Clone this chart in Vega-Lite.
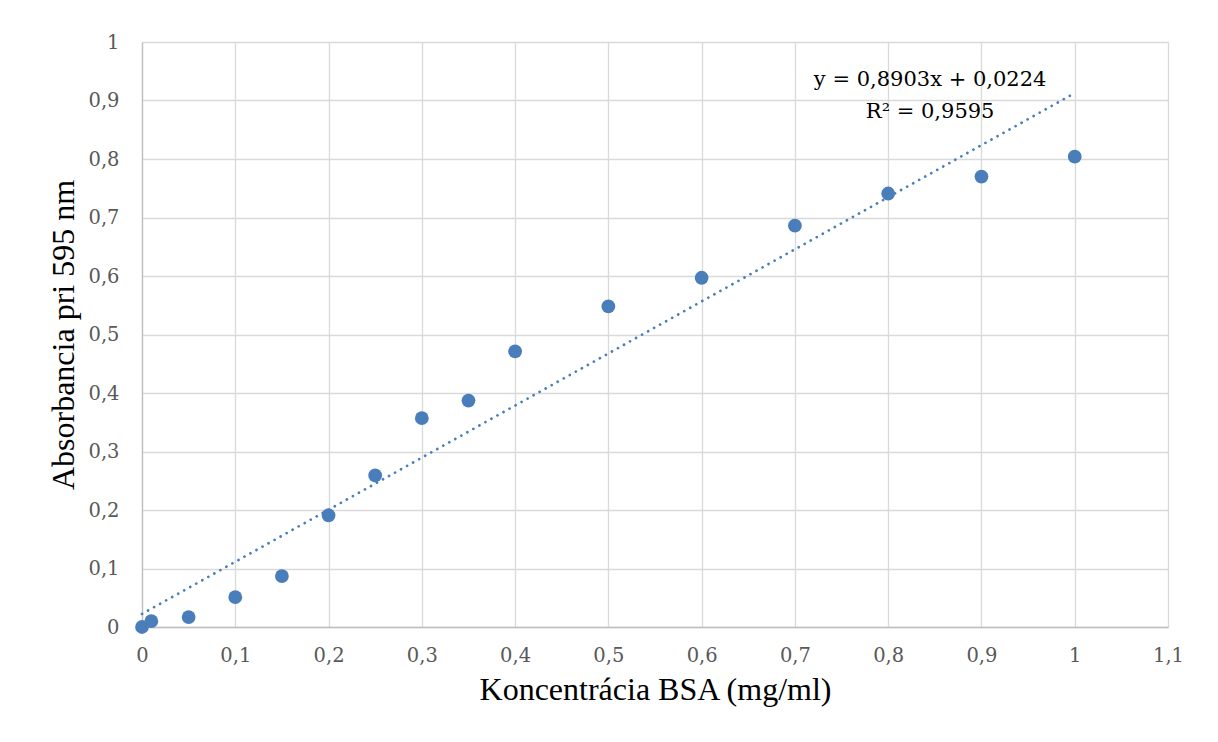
{
  "$schema": "https://vega.github.io/schema/vega-lite/v6.json",
  "width": 1026,
  "height": 585,
  "autosize": {"type": "none"},
  "padding": {"left": 142, "top": 42, "right": 50, "bottom": 115},
  "background": "white",
  "config": {
    "view": {"stroke": null},
    "axis": {
      "gridColor": "#d9d9d9",
      "gridWidth": 1.3,
      "domainColor": "#bfbfbf",
      "domainWidth": 1.3,
      "ticks": false,
      "labelFlush": false,
      "labelFont": "DejaVu Serif",
      "labelFontSize": 19.5,
      "labelColor": "#595959",
      "titleFont": "Liberation Serif",
      "titleFontSize": 32,
      "titleFontWeight": "normal",
      "titleColor": "#000000"
    }
  },
  "datasets": {
    "points": [
      {"x": 0, "y": 0},
      {"x": 0.01, "y": 0.01},
      {"x": 0.05, "y": 0.017},
      {"x": 0.1, "y": 0.051},
      {"x": 0.15, "y": 0.087},
      {"x": 0.2, "y": 0.191},
      {"x": 0.25, "y": 0.259},
      {"x": 0.3, "y": 0.357},
      {"x": 0.35, "y": 0.387},
      {"x": 0.4, "y": 0.471},
      {"x": 0.5, "y": 0.548},
      {"x": 0.6, "y": 0.597},
      {"x": 0.7, "y": 0.686},
      {"x": 0.8, "y": 0.741},
      {"x": 0.9, "y": 0.770},
      {"x": 1.0, "y": 0.804}
    ],
    "trend": [
      {"x": 0, "y": 0.0224},
      {"x": 1, "y": 0.9127}
    ],
    "labels": [
      {"x": 0.845, "y": 0.935, "t": "y = 0,8903x + 0,0224"},
      {"x": 0.845, "y": 0.88, "t": "R² = 0,9595"}
    ]
  },
  "layer": [
    {
      "data": {"name": "trend"},
      "mark": {"type": "line", "color": "#4a7ebb", "strokeWidth": 2.7, "strokeDash": [0.1, 6.8], "strokeCap": "round"},
      "encoding": {
        "x": {
          "field": "x", "type": "quantitative",
          "scale": {"domain": [0, 1.1], "nice": false},
          "axis": {
            "values": [0, 0.1, 0.2, 0.3, 0.4, 0.5, 0.6, 0.7, 0.8, 0.9, 1, 1.1],
            "labelExpr": "replace(format(datum.value, '~g'), '.', ',')",
            "labelPadding": 19,
            "title": "Koncentrácia BSA (mg/ml)",
            "titlePadding": 10
          }
        },
        "y": {
          "field": "y", "type": "quantitative",
          "scale": {"domain": [0, 1], "nice": false},
          "axis": {
            "values": [0, 0.1, 0.2, 0.3, 0.4, 0.5, 0.6, 0.7, 0.8, 0.9, 1],
            "labelExpr": "replace(format(datum.value, '~g'), '.', ',')",
            "labelPadding": 23,
            "title": "Absorbancia pri 595 nm",
            "titlePadding": 7
          }
        }
      }
    },
    {
      "data": {"name": "points"},
      "mark": {"type": "circle", "color": "#4a7ebb", "opacity": 1, "size": 190},
      "encoding": {
        "x": {"field": "x", "type": "quantitative"},
        "y": {"field": "y", "type": "quantitative"}
      }
    },
    {
      "data": {"name": "labels"},
      "mark": {"type": "text", "font": "DejaVu Serif", "fontSize": 21, "color": "#000000", "align": "center", "baseline": "middle"},
      "encoding": {
        "x": {"field": "x", "type": "quantitative"},
        "y": {"field": "y", "type": "quantitative"},
        "text": {"field": "t"}
      }
    }
  ]
}
